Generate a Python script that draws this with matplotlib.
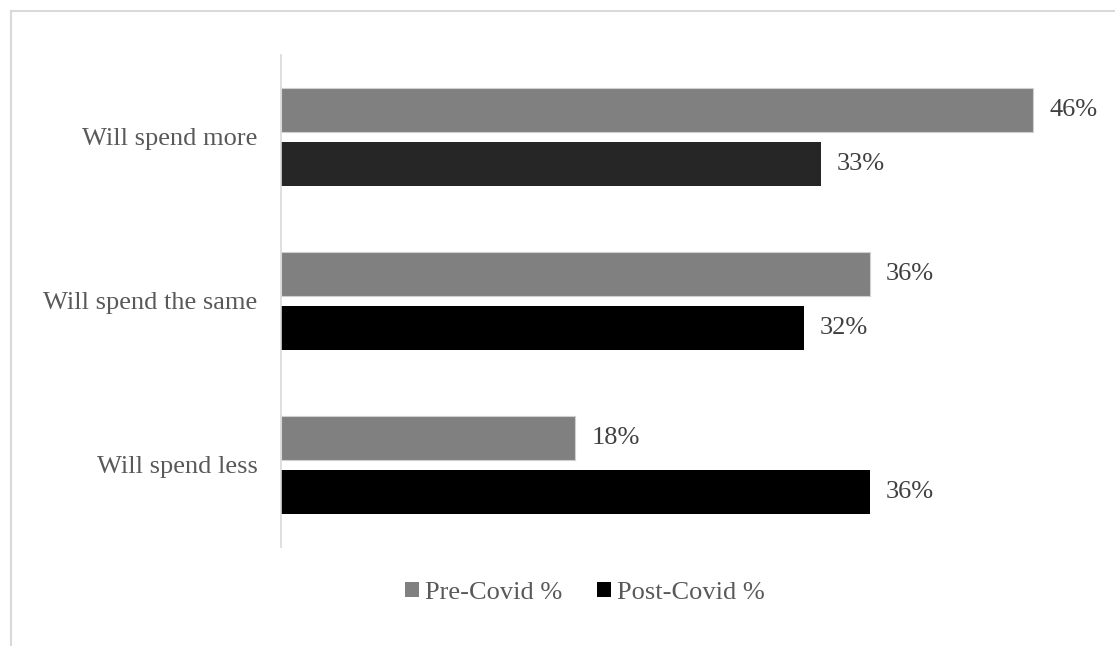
import matplotlib
matplotlib.use("Agg")
import matplotlib.pyplot as plt
from matplotlib.patches import Patch
from matplotlib.lines import Line2D

# Data (bottom to top, as drawn)
categories = ["Will spend less", "Will spend the same", "Will spend more"]
pre_covid = [18, 36, 46]
post_covid = [36, 32, 33]
series_names = ["Pre-Covid %", "Post-Covid %"]

PRE_COLOR = "#808080"
POST_COLORS = ["#000000", "#000000", "#262626"]
FONT = "Liberation Serif"
FS = 19

W, H = 1115, 646
fig = plt.figure(figsize=(W / 100, H / 100), dpi=100)
plt.rcParams["font.family"] = FONT

# axes placement in pixels
x0, x1 = 281, 281 + 48 * 16.35
y_top, y_bot = 55, 547
ax = fig.add_axes([x0 / W, 1 - y_bot / H, (x1 - x0) / W, (y_bot - y_top) / H])

pos = list(range(len(categories)))
h = 0.268
off = 0.167
ax.barh([p + off for p in pos], pre_covid, height=h, color=PRE_COLOR,
        edgecolor="#d0d0d0", linewidth=0.8)
ax.barh([p - off for p in pos], post_covid, height=h, color=POST_COLORS,
        edgecolor="none")

for p, v in zip(pos, pre_covid):
    ax.annotate(f"{v}%", (v, p + off), xytext=(11.5, 0), textcoords="offset points",
                va="center", ha="left", fontsize=FS, color="#404040", family=FONT)
for p, v in zip(pos, post_covid):
    ax.annotate(f"{v}%", (v, p - off), xytext=(11.5, 0), textcoords="offset points",
                va="center", ha="left", fontsize=FS, color="#404040", family=FONT)

ax.set_xlim(0, 48)
ax.set_ylim(-0.5, 2.5)
ax.set_yticks(pos)
ax.set_yticklabels(categories, fontsize=FS, color="#595959", family=FONT)
ax.tick_params(axis="y", length=0, pad=17)
ax.set_xticks([])
for s in ["top", "right", "bottom"]:
    ax.spines[s].set_visible(False)
ax.spines["left"].set_color("#d9d9d9")
ax.spines["left"].set_linewidth(1.2)

handles = [Patch(facecolor=PRE_COLOR, edgecolor="none", label=series_names[0]),
           Patch(facecolor="#000000", edgecolor="none", label=series_names[1])]
leg = fig.legend(handles=handles, loc="center", bbox_to_anchor=(585 / W, 1 - 593 / H),
                 ncol=2, frameon=False, fontsize=FS, handlelength=0.53,
                 handleheight=0.53, handletextpad=0.25, columnspacing=1.3,
                 prop={"family": FONT, "size": FS})
for t in leg.get_texts():
    t.set_color("#595959")

# chart area border (top and left visible)
fig.add_artist(Line2D([11 / W, 1], [1 - 11 / H, 1 - 11 / H], color="#d9d9d9", lw=1.5))
fig.add_artist(Line2D([11 / W, 11 / W], [0, 1 - 11 / H], color="#d9d9d9", lw=1.5))

fig.savefig("out.png", dpi=100)
